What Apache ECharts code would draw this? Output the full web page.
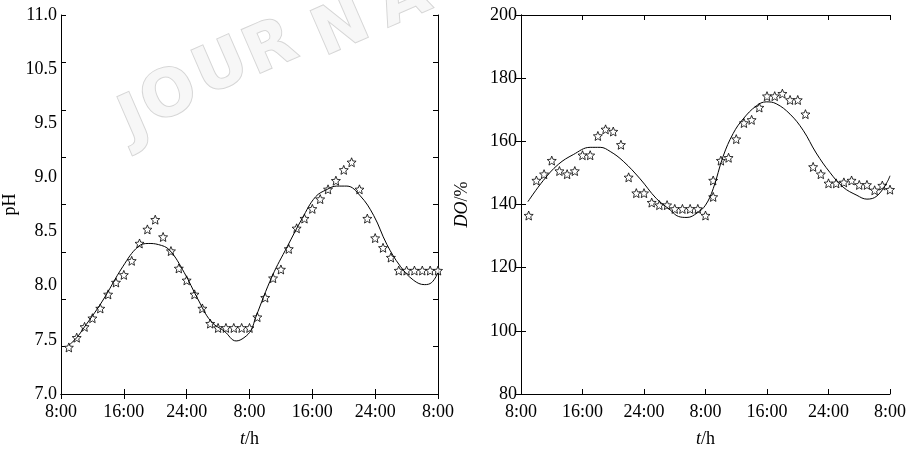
<!DOCTYPE html>
<html>
<head>
<meta charset="utf-8">
<script src="https://cdn.jsdelivr.net/npm/echarts@6/dist/echarts.min.js"></script>
<style>
  html, body { margin: 0; padding: 0; background: #fff; }
  #main { width: 912px; height: 453px; }
</style>
</head>
<body>
<div id="main"></div>
<script>
var chart = echarts.init(document.getElementById('main'));

// tick labels
var timeLabels = ['8:00', '16:00', '24:00', '8:00', '16:00', '24:00', '8:00'];
var phLabels = ['7.0', '7.5', '8.0', '8.5', '9.0', '9.5', '10.5', '11.0'];

// pH measured (stars), hours after 8:00
var phStarHour = [1, 2, 3, 4, 5, 6, 7, 8, 9, 10, 11, 12, 13, 14, 15, 16, 17, 18, 19, 20, 21, 22, 23, 24,
                  25, 26, 27, 28, 29, 30, 31, 32, 33, 34, 35, 36, 37, 38, 39, 40, 41, 42, 43, 44, 45, 46, 47, 48];
var phStarValue = [7.43, 7.52, 7.62, 7.70, 7.79, 7.92, 8.03, 8.10, 8.23, 8.39, 8.52, 8.61,
                   8.45, 8.32, 8.16, 8.05, 7.92, 7.79, 7.65, 7.61, 7.61, 7.61, 7.61, 7.61,
                   7.71, 7.89, 8.07, 8.15, 8.34, 8.53, 8.62, 8.71, 8.80, 8.89, 8.97, 9.07,
                   9.14, 8.89, 8.62, 8.44, 8.35, 8.26, 8.14, 8.14, 8.14, 8.14, 8.14, 8.14];

// pH model curve
var phCurveHour = [1, 2, 2.9, 5.2, 7.9, 9.8, 11.1, 12.4, 13.8, 15.7, 17.4, 19.1, 20.8, 22.3, 23.3, 24.2,
                   24.8, 26.9, 28.8, 30.7, 32.4, 33.9, 35.1, 36.4, 38.1, 39.8, 41.5, 43.2, 44.9, 46.3, 47.2, 48];
var phCurveValue = [7.45, 7.52, 7.61, 7.85, 8.18, 8.36, 8.39, 8.38, 8.33, 8.12, 7.88, 7.67, 7.58, 7.49, 7.52, 7.59,
                    7.71, 8.09, 8.36, 8.62, 8.82, 8.89, 8.92, 8.92, 8.83, 8.65, 8.38, 8.18, 8.05, 8.01, 8.03, 8.12];

// DO measured (stars)
var doStarHour = [1, 2, 3, 4, 5, 6, 7, 8, 9, 10, 11, 12, 13, 14, 15, 16, 17, 18, 19, 20, 21, 22, 23, 24,
                  25, 25, 26, 27, 28, 29, 30, 31, 32, 33, 34, 35, 36, 37, 38, 39, 40, 41, 42, 43, 44, 45, 46, 47, 48];
var doStarValue = [136.5, 147.6, 149.6, 153.9, 150.6, 149.6, 150.6, 155.6, 155.6, 161.7, 163.8, 163.1,
                   158.9, 148.6, 143.6, 143.6, 140.6, 139.8, 139.8, 138.6, 138.6, 138.6, 138.6, 136.5,
                   142.4, 147.6, 153.9, 154.8, 160.7, 165.8, 166.8, 170.7, 174.3, 174.3, 175.1, 173.1,
                   173.1, 168.6, 151.9, 149.6, 146.7, 146.7, 147.0, 147.6, 146.2, 146.2, 144.5, 146.0, 144.7];

// DO model curve
var doCurveHour = [0.9, 2.9, 4.85, 6.8, 9.0, 10.3, 11.6, 13.3, 15.5, 17.6, 19.4, 20.5, 21.6, 22.9, 24.0,
                   25.0, 26.3, 27.6, 28.9, 30.6, 31.9, 33.2, 35.0, 36.7, 38.4, 40.2, 41.9, 43.7, 45.0, 46.3, 47.6, 48];
var doCurveValue = [140.9, 147.6, 152.7, 155.8, 158.1, 158.1, 156.8, 153.7, 148.1, 141.9, 138.3, 136.2, 135.9, 137.3, 139.8,
                    145.0, 155.3, 162.5, 167.1, 171.2, 172.5, 171.9, 168.6, 163.5, 156.3, 150.1, 145.5, 142.9, 141.7, 142.7, 147.0, 149.1];

function pairs(xs, ys) {
    var out = [];
    for (var i = 0; i < xs.length; i++) {
        out.push([xs[i], ys[i]]);
    }
    return out;
}

var FONT = 'Liberation Serif';
var FS = 18;
var starPath = 'path://M10,0 L12.6,6.4 L19.51,6.91 L14.3,11.2 L15.88,18.09 L10,14.5 L4.12,18.09 L5.7,11.2 L0.49,6.91 L7.4,6.4 Z';

var lineStyle = { color: '#000', width: 1 };

// watermark letters (decoration only)
function mark(ch, x, y) {
    return {
        type: 'text', x: x, y: y, rotation: 0.41, z: -10, silent: true,
        style: {
            text: ch, font: 'bold 64px "DejaVu Sans"',
            fill: '#f7f7f7', stroke: '#d6d6d6', lineWidth: 2,
            align: 'center', verticalAlign: 'middle'
        }
    };
}

function xAxisFor(grid, pos, withLabels) {
    return {
        type: 'value',
        gridIndex: grid,
        position: pos,
        min: 0,
        max: 48,
        interval: 8,
        axisLine: { show: true, lineStyle: lineStyle },
        axisTick: { show: true, inside: true, length: 5, lineStyle: lineStyle },
        splitLine: { show: false },
        axisLabel: {
            show: withLabels,
            margin: 9,
            color: '#000',
            fontFamily: FONT,
            fontSize: FS,
            showMinLabel: true,
            showMaxLabel: true,
            hideOverlap: false,
            formatter: function (v) { return timeLabels[Math.round(v / 8)]; }
        },
        name: withLabels ? '{i|t}/h' : '',
        nameLocation: 'middle',
        nameGap: 36,
        nameTextStyle: {
            color: '#000', fontFamily: FONT, fontSize: FS,
            rich: { i: { fontStyle: 'italic', fontFamily: FONT, fontSize: FS, color: '#000' } }
        }
    };
}

var option = {
    animation: false,
    backgroundColor: '#fff',
    grid: [
        { left: 59, right: 474, top: 15, bottom: 49 },
        { left: 521, right: 22, top: 15, bottom: 49 }
    ],
    graphic: [
        mark('J', 135, 122),
        mark('O', 170, 98),
        mark('U', 222, 70),
        mark('R', 271, 50),
        mark('N', 342, 30),
        mark('A', 404, 2)
    ],
    xAxis: [
        xAxisFor(0, 'bottom', true),
        xAxisFor(0, 'top', false),
        xAxisFor(1, 'bottom', true),
        xAxisFor(1, 'top', false)
    ],
    yAxis: [
        {
            type: 'value', gridIndex: 0, position: 'left',
            min: 7, max: 10.5, interval: 0.5,
            axisLine: { show: true, lineStyle: lineStyle },
            axisTick: { show: false },
            splitLine: { show: false },
            axisLabel: {
                color: '#000', fontFamily: FONT, fontSize: FS, margin: 4,
                formatter: function (v) { return phLabels[Math.round((v - 7) / 0.5)]; }
            },
            name: 'pH',
            nameLocation: 'middle',
            nameGap: 42,
            nameTextStyle: { color: '#000', fontFamily: FONT, fontSize: FS }
        },
        {
            type: 'value', gridIndex: 0, position: 'left',
            min: 0, max: 8, interval: 1,
            axisLine: { show: false },
            axisTick: { show: true, inside: true, length: 5, lineStyle: lineStyle },
            splitLine: { show: false },
            axisLabel: { show: false }
        },
        {
            type: 'value', gridIndex: 0, position: 'right',
            min: 0, max: 8, interval: 1,
            axisLine: { show: true, lineStyle: lineStyle },
            axisTick: { show: true, inside: true, length: 5, lineStyle: lineStyle },
            splitLine: { show: false },
            axisLabel: { show: false }
        },
        {
            type: 'value', gridIndex: 1, position: 'left',
            min: 80, max: 200, interval: 20,
            axisLine: { show: true, lineStyle: lineStyle },
            axisTick: { show: true, inside: true, length: 5, lineStyle: lineStyle },
            splitLine: { show: false },
            axisLabel: { color: '#000', fontFamily: FONT, fontSize: FS, margin: 4 },
            name: '{i|DO}/%',
            nameLocation: 'middle',
            nameGap: 50,
            nameTextStyle: {
                color: '#000', fontFamily: FONT, fontSize: FS,
                rich: { i: { fontStyle: 'italic', fontFamily: FONT, fontSize: FS, color: '#000' } }
            }
        },
        {
            type: 'value', gridIndex: 1, position: 'right',
            min: 80, max: 200, interval: 20,
            axisLine: { show: true, lineStyle: lineStyle },
            axisTick: { show: true, inside: true, length: 5, lineStyle: lineStyle },
            splitLine: { show: false },
            axisLabel: { show: false }
        }
    ],
    series: [
        {
            name: 'pH model', type: 'line', xAxisIndex: 0, yAxisIndex: 0,
            data: pairs(phCurveHour, phCurveValue),
            smooth: 0.4, showSymbol: false,
            lineStyle: { color: '#000', width: 1 }
        },
        {
            name: 'pH measured', type: 'scatter', xAxisIndex: 0, yAxisIndex: 0,
            data: pairs(phStarHour, phStarValue),
            symbol: starPath, symbolSize: 9,
            itemStyle: { color: '#fff', borderColor: '#000', borderWidth: 1 }
        },
        {
            name: 'DO model', type: 'line', xAxisIndex: 2, yAxisIndex: 3,
            data: pairs(doCurveHour, doCurveValue),
            smooth: 0.4, showSymbol: false,
            lineStyle: { color: '#000', width: 1 }
        },
        {
            name: 'DO measured', type: 'scatter', xAxisIndex: 2, yAxisIndex: 3,
            data: pairs(doStarHour, doStarValue),
            symbol: starPath, symbolSize: 9,
            itemStyle: { color: '#fff', borderColor: '#000', borderWidth: 1 }
        }
    ]
};

chart.setOption(option);
</script>
</body>
</html>
